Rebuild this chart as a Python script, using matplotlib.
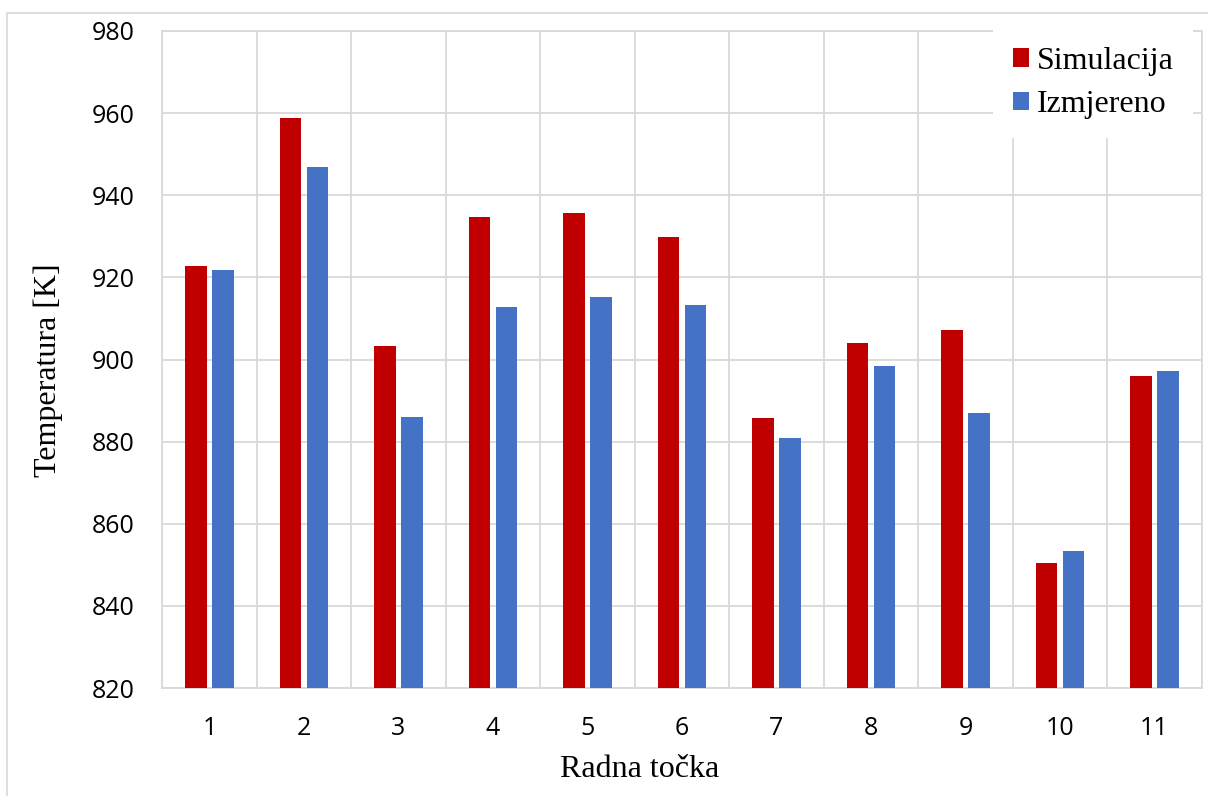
import matplotlib
matplotlib.use('Agg')
import matplotlib.pyplot as plt
from matplotlib.font_manager import FontProperties
from matplotlib.patches import Rectangle
import numpy as np

# ---- data ----
categories = ['1', '2', '3', '4', '5', '6', '7', '8', '9', '10', '11']
simulacija = [922.7, 958.8, 903.2, 934.6, 935.6, 929.9, 885.7, 903.9, 907.3, 850.4, 896.0]
izmjereno = [921.8, 946.8, 886.1, 912.7, 915.3, 913.3, 880.8, 898.4, 887.0, 853.4, 897.2]
y_ticks = [820, 840, 860, 880, 900, 920, 940, 960, 980]
series_names = ['Simulacija', 'Izmjereno']
x_title = 'Radna točka'
y_title = 'Temperatura [K]'

RED = '#C00000'
BLUE = '#4472C4'
GRID = '#d9d9d9'

W, H = 1208, 796
fig = plt.figure(figsize=(W / 100, H / 100), dpi=100)
fig.patch.set_facecolor('white')

# outer chart frame (cropped Excel chart border)
fig.add_artist(Rectangle((7.5 / W, -0.1), 1.2, (H - 12.7) / H + 0.1,
                         transform=fig.transFigure, fill=False,
                         edgecolor=GRID, linewidth=1.2))

left, right, top, bottom = 162.3, 1201.7, 31.0, 688.0
ax = fig.add_axes([left / W, 1 - bottom / H, (right - left) / W, (bottom - top) / H])

x = np.arange(1, len(categories) + 1)
bw = 0.226
off = 0.143
ax.bar(x - off, simulacija, width=bw, color=RED, label=series_names[0], zorder=3)
ax.bar(x + off, izmjereno, width=bw, color=BLUE, label=series_names[1], zorder=3)

ax.set_xlim(0.5, len(categories) + 0.5)
ax.set_ylim(y_ticks[0], y_ticks[-1])
ax.set_yticks(y_ticks)
ax.set_xticks(x)
ax.set_xticklabels(categories)
ax.set_xticks(np.arange(0.5, len(categories) + 1, 1.0), minor=True)

ax.set_axisbelow(True)
ax.grid(True, which='major', axis='y', color=GRID, linewidth=1.3)
ax.grid(True, which='minor', axis='x', color=GRID, linewidth=1.3)
ax.grid(False, which='major', axis='x')
for s in ax.spines.values():
    s.set_color(GRID)
    s.set_linewidth(1.3)

tick_font = FontProperties(family='Open Sans', size=18)
ax.tick_params(axis='both', which='both', length=0, pad=20)
for lab in ax.get_xticklabels() + ax.get_yticklabels():
    lab.set_fontproperties(tick_font)
    lab.set_color('black')

serif = FontProperties(family='Liberation Serif', size=23)

fig.text(639.5 / W, 1 - 777 / H, x_title, ha='center', va='baseline',
         fontproperties=serif, color='black')
fig.text(48 / W, 1 - 370 / H, y_title, ha='center', va='center', rotation=90,
         fontproperties=serif, color='black')

leg = ax.legend(loc='center', bbox_to_anchor=(1093 / W, 1 - 83 / H),
                bbox_transform=fig.transFigure, prop=serif,
                handlelength=0.5, handleheight=0.5, handletextpad=0.25,
                labelspacing=0.45, borderpad=0.6, frameon=True, fancybox=False,
                facecolor='white', edgecolor='none', framealpha=1.0)
leg.set_zorder(5)

fig.savefig('out.png', dpi=100, facecolor='white')
